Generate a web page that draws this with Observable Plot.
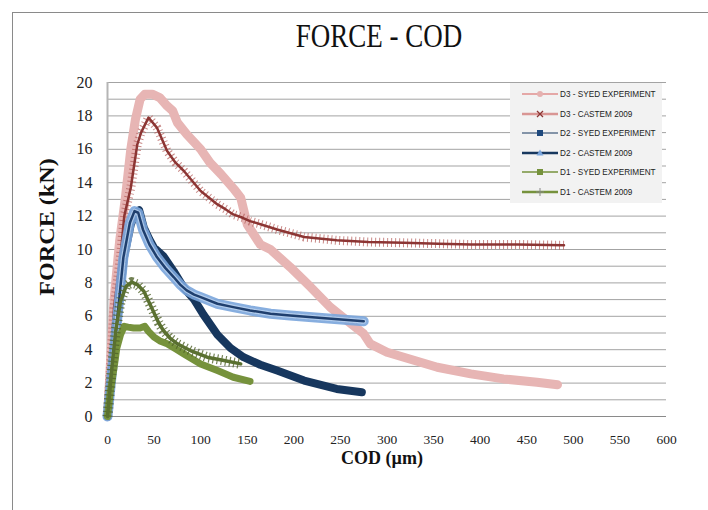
<!DOCTYPE html>
<html>
<head>
<meta charset="utf-8">
<script src="https://cdn.jsdelivr.net/npm/d3@7"></script>
<script src="https://cdn.jsdelivr.net/npm/@observablehq/plot@0.6"></script>
<style>
  html, body { margin:0; padding:0; background:#fff; width:708px; height:510px; overflow:hidden; }
  #wrap { position:relative; width:708px; height:510px; }
  #frame { position:absolute; left:12px; top:12px; width:760px; height:560px; border-left:1px solid #8a8a8a; border-top:1px solid #8a8a8a; }
  #chart { position:absolute; left:0; top:0; }
  #chart svg text { font-family:"Liberation Serif", serif; }
  .title { position:absolute; left:379px; top:35px; transform:translate(-50%,-50%) scale(0.9,1.15); font-family:"Liberation Serif", serif; font-size:30px; color:#111; white-space:nowrap; }
  .ylab { position:absolute; left:47px; top:227px; transform:translate(-50%,-50%) rotate(-90deg) scaleX(1.15); font-family:"Liberation Serif", serif; font-weight:bold; font-size:21px; color:#111; white-space:nowrap; }
  .xlab { position:absolute; left:382px; top:458px; transform:translate(-50%,-50%); font-family:"Liberation Serif", serif; font-weight:bold; font-size:18px; color:#111; white-space:nowrap; }
  #legend { position:absolute; left:510px; top:83px; width:152px; height:120px; background:#f2f2f2; }
  .li { position:absolute; left:0; height:14px; width:152px; }
  .li svg { position:absolute; left:10px; top:0; }
  .li span { position:absolute; left:50px; top:1px; font-family:"Liberation Sans", Arial, sans-serif; font-size:8.2px; color:#222; white-space:nowrap; line-height:12px; }
</style>
</head>
<body>
<div id="wrap">
  <div id="frame"></div>
  <div id="chart"></div>
  <div class="title">FORCE - COD</div>
  <div class="ylab">FORCE (kN)</div>
  <div class="xlab">COD (µm)</div>
  <div id="legend"></div>
</div>
<script>
// ---- axis ticks ----
const xTicks = [0, 50, 100, 150, 200, 250, 300, 350, 400, 450, 500, 550, 600];
const yTicks = [0, 2, 4, 6, 8, 10, 12, 14, 16, 18, 20];
const yGrid = [1, 2, 3, 4, 5, 6, 7, 8, 9, 10, 11, 12, 13, 14, 15, 16, 17, 18, 19, 20];

// ---- series names ----
const seriesNames = ["D3 - SYED EXPERIMENT", "D3 - CASTEM 2009", "D2 - SYED EXPERIMENT", "D2 - CASTEM 2009", "D1 - SYED EXPERIMENT", "D1 - CASTEM 2009"];

// ---- D3 SYED EXPERIMENT ----
const d3SyedCod = [0, 2, 7, 13, 19, 25, 30, 35, 40, 48, 56, 64, 70, 75, 85, 100, 110, 122, 136, 143, 150, 164, 175, 196, 218, 239, 257, 275, 282, 300, 318, 354, 390, 425, 461, 483];
const d3SyedForce = [0, 2, 7, 10.5, 13, 16, 17.8, 19, 19.3, 19.3, 19.1, 18.6, 18.3, 17.6, 16.9, 16.0, 15.2, 14.5, 13.6, 13.1, 11.5, 10.3, 10.0, 8.95, 7.75, 6.55, 5.75, 4.95, 4.35, 3.85, 3.55, 2.95, 2.55, 2.25, 2.05, 1.9];

// ---- D3 CASTEM 2009 ----
const d3CastemCod = [0, 7, 14, 18, 25, 32, 36, 44, 53, 64, 73, 82, 91, 100, 109, 118, 127, 135, 145, 153, 165, 182, 211, 246, 280, 318, 355, 390, 440, 490];
const d3CastemForce = [0, 6.5, 9.6, 12.0, 13.7, 16.3, 17.0, 17.9, 17.3, 15.9, 15.2, 14.7, 14.1, 13.5, 13.1, 12.7, 12.4, 12.1, 11.9, 11.7, 11.5, 11.2, 10.75, 10.55, 10.45, 10.4, 10.35, 10.3, 10.3, 10.25];

// ---- D2 SYED EXPERIMENT ----
const d2SyedCod = [0, 5, 10, 17.5, 25, 30, 34, 39, 45, 50, 60, 71, 82, 93, 103, 118, 132, 146, 164, 182, 211, 246, 273];
const d2SyedForce = [0, 2.8, 5.4, 9.5, 11.5, 12.2, 12.35, 11.3, 10.6, 10.1, 9.6, 8.7, 7.7, 7.0, 6.1, 4.9, 4.1, 3.55, 3.1, 2.75, 2.15, 1.65, 1.45];

// ---- D2 CASTEM 2009 ----
const d2CastemCod = [0, 5, 10, 17, 24, 29, 33, 38, 45, 53, 62, 71, 78, 85, 93, 100, 118, 135, 153, 175, 196, 230, 275];
const d2CastemForce = [0, 2.8, 5.6, 9.5, 11.6, 12.3, 12.2, 11.2, 10.3, 9.55, 8.9, 8.35, 7.9, 7.55, 7.3, 7.15, 6.75, 6.55, 6.35, 6.15, 6.05, 5.9, 5.7];

// ---- D1 SYED EXPERIMENT ----
const d1SyedCod = [0, 3, 7, 10, 14, 18, 22, 28, 35, 40, 44, 50, 57, 64, 73, 82, 91, 100, 118, 135, 153];
const d1SyedForce = [0, 1.5, 2.9, 4.1, 4.9, 5.4, 5.35, 5.3, 5.3, 5.4, 5.1, 4.75, 4.5, 4.35, 4.05, 3.75, 3.45, 3.15, 2.75, 2.35, 2.1];

// ---- D1 CASTEM 2009 ----
const d1CastemCod = [0, 5, 9, 14, 20, 26, 32, 39, 45, 50, 55, 60, 67, 75, 82, 89, 98, 107, 125, 143];
const d1CastemForce = [0, 3.1, 5.2, 6.9, 7.8, 8.05, 7.9, 7.5, 6.8, 6.2, 5.6, 5.15, 4.7, 4.35, 4.15, 3.95, 3.75, 3.55, 3.35, 3.15];

const zip = (xs, ys) => xs.map((x, i) => ({cod: x, force: ys[i]}));
const d3Syed = zip(d3SyedCod, d3SyedForce);
const d3Castem = zip(d3CastemCod, d3CastemForce);
const d2Syed = zip(d2SyedCod, d2SyedForce);
const d2Castem = zip(d2CastemCod, d2CastemForce);
const d1Syed = zip(d1SyedCod, d1SyedForce);
const d1Castem = zip(d1CastemCod, d1CastemForce);

const L = {x: "cod", y: "force", strokeLinejoin: "round", strokeLinecap: "round"};
const serif = "Liberation Serif";

const chart = Plot.plot({
  width: 708,
  height: 510,
  marginLeft: 107,
  marginRight: 42,
  marginTop: 82,
  marginBottom: 94,
  style: {fontFamily: "'Liberation Serif', serif", background: "transparent", overflow: "visible"},
  x: {domain: [0, 600]},
  y: {domain: [0, 20]},
  marks: [
    Plot.gridY(yGrid, {stroke: "#a3a3a3", strokeOpacity: 1, strokeWidth: 1}),
    Plot.axisY(yTicks, {tickSize: 0, tickPadding: 15, fontSize: 16, fontFamily: serif, fill: "#222", label: null}),
    Plot.axisX(xTicks, {tickSize: 0, tickPadding: 18, fontSize: 13.5, fontFamily: serif, fill: "#222", label: null}),
    Plot.ruleX([0], {stroke: "#b5b5b5", strokeWidth: 2}),
    Plot.ruleY([0], {stroke: "#8a8a8a", strokeWidth: 1}),
    // D3 SYED
    Plot.line(d3Syed, {...L, stroke: "#e7b5b4", strokeWidth: 9}),
    // D3 CASTEM
    Plot.line(d3Castem, {...L, stroke: "#b5605e", strokeWidth: 9, strokeDasharray: "1,3", strokeOpacity: 0.75, strokeLinecap: "butt"}),
    Plot.line(d3Castem, {...L, stroke: "#8c3533", strokeWidth: 2.5}),
    // D2 SYED
    Plot.line(d2Syed, {...L, stroke: "#17375e", strokeWidth: 8}),
    // D2 CASTEM
    Plot.line(d2Castem, {...L, stroke: "#7aa5dc", strokeWidth: 10, strokeOpacity: 0.9}),
    Plot.line(d2Castem, {...L, stroke: "#c5d9f1", strokeWidth: 5, strokeDasharray: "2,2", strokeOpacity: 0.7}),
    Plot.line(d2Castem, {...L, stroke: "#1f3f6e", strokeWidth: 2.5}),
    // D1 SYED
    Plot.line(d1Syed, {...L, stroke: "#76923c", strokeWidth: 7}),
    // D1 CASTEM
    Plot.line(d1Castem, {...L, stroke: "#4f6228", strokeWidth: 10, strokeDasharray: "1.2,3", strokeOpacity: 0.8, strokeLinecap: "butt"}),
    Plot.line(d1Castem, {...L, stroke: "#5a7030", strokeWidth: 3.5})
  ]
});
document.getElementById("chart").appendChild(chart);

// ---- legend ----
const legendStyles = [
  {stroke: "#e5a8a7", width: 2, marker: "circle", mfill: "#e5b1b0"},
  {stroke: "#d99694", width: 2.5, marker: "x", mfill: "#8c3533"},
  {stroke: "#17375e", width: 1, marker: "square", mfill: "#1f497d"},
  {stroke: "#17375e", width: 2.5, marker: "triangle", mfill: "#7aa5dc"},
  {stroke: "#76923c", width: 1.5, marker: "square", mfill: "#76923c"},
  {stroke: "#76923c", width: 2.5, marker: "plus", mfill: "#888"}
];
const legendTops = [5, 25, 44, 64, 83, 103];
const legend = document.getElementById("legend");
seriesNames.forEach((name, i) => {
  const s = legendStyles[i];
  let m = "";
  if (s.marker === "circle") m = `<circle cx="20" cy="6" r="3" fill="${s.mfill}"/>`;
  if (s.marker === "x") m = `<path d="M17 3L23 9M23 3L17 9" stroke="${s.mfill}" stroke-width="1.3"/>`;
  if (s.marker === "square") m = `<rect x="17" y="3" width="6" height="6" fill="${s.mfill}"/>`;
  if (s.marker === "triangle") m = `<path d="M20 2.5L23.5 8.5L16.5 8.5Z" fill="${s.mfill}"/>`;
  if (s.marker === "plus") m = `<path d="M20 2V10M16 6H24" stroke="${s.mfill}" stroke-width="1"/>`;
  const div = document.createElement("div");
  div.className = "li";
  div.style.top = (legendTops[i]) + "px";
  div.innerHTML = `<svg width="40" height="12"><line x1="2" y1="6" x2="38" y2="6" stroke="${s.stroke}" stroke-width="${s.width}"/>${m}</svg><span>${name}</span>`;
  legend.appendChild(div);
});
</script>
</body>
</html>
